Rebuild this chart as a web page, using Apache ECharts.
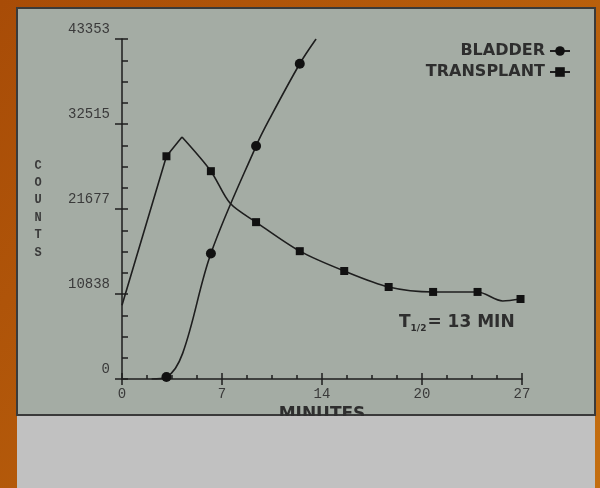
<!DOCTYPE html>
<html>
<head>
<meta charset="utf-8">
<script src="https://cdn.jsdelivr.net/npm/echarts@6/dist/echarts.min.js"></script>
<style>
  html, body { margin: 0; padding: 0; background: #b0560a; }
  #chart { width: 600px; height: 488px; }
</style>
</head>
<body>
<div id="chart"></div>
<script>
// ---- Data ----
// Measured points (drawn with markers)
const bladderMinutes = [3.0, 6.0, 9.05, 12.0];
const bladderCounts = [250, 16000, 29700, 40200];
// Points (no marker)
const bladderTraceMinutes = [2.0, 4.1, 10.0, 13.1];
const bladderTraceCounts = [0, 3300, 33300, 43353];

const transplantMinutes = [3.0, 6.0, 9.05, 12.0, 15.0, 18.0, 21.0, 24.0, 26.9];
const transplantCounts = [28400, 26500, 20000, 16300, 13770, 11730, 11100, 11100, 10200];
const transplantTraceMinutes = [0, 4.05, 7.3, 25.7];
const transplantTraceCounts = [9400, 30850, 22400, 9950];

// Axis tick labels
const xTickLabels = ['0', '7', '14', '20', '27'];
const yTickLabels = ['0', '10838', '21677', '32515', '43353'];
const seriesNames = ['BLADDER', 'TRANSPLANT'];
const axisXName = 'MINUTES';
const axisYName = 'COUNTS';
const halfLifeNote = { pre: 'T', sub: '1/2', post: '= 13 MIN' };

// ---- Build series data ----
function merge(mx, my, tx, ty, sym) {
  const pts = [];
  mx.forEach((x, i) => pts.push({ value: [x, my[i]], symbol: sym }));
  tx.forEach((x, i) => pts.push({ value: [x, ty[i]], symbol: 'none' }));
  pts.sort((a, b) => a.value[0] - b.value[0]);
  return pts;
}
const bladderData = merge(bladderMinutes, bladderCounts, bladderTraceMinutes, bladderTraceCounts, 'circle');
const transplantAll = merge(transplantMinutes, transplantCounts, transplantTraceMinutes, transplantTraceCounts, 'rect');
// split at the peak: straight rise, then smooth decay
let peakIdx = 0;
transplantAll.forEach((p, i) => { if (p.value[1] > transplantAll[peakIdx].value[1]) peakIdx = i; });
const transplantRise = transplantAll.slice(0, peakIdx + 1);
const transplantDecay = transplantAll.slice(peakIdx);

const xMax = 27, yMax = 43353;
const ink = '#1e1e1e';
const mono = '"Liberation Mono", "DejaVu Sans Mono", monospace';
const sans = '"DejaVu Sans", sans-serif';

const chart = echarts.init(document.getElementById('chart'), null, { renderer: 'canvas' });

const baseX = { type: 'value', min: 0, max: xMax, interval: xMax / 4 };
const baseY = { type: 'value', min: 0, max: yMax, interval: yMax / 4 };

chart.setOption({
  animation: false,
  backgroundColor: 'transparent',
  grid: { left: 122, right: 78, top: 39, bottom: 109 },
  legend: {
    data: seriesNames,
    orient: 'vertical',
    right: 24,
    top: 38,
    align: 'right',
    itemWidth: 20,
    itemHeight: 12,
    itemGap: 5,
    selectedMode: false,
    textStyle: { fontFamily: sans, fontWeight: 'bold', fontSize: 16, color: '#2e2e2e', lineHeight: 14 }
  },
  xAxis: [
    Object.assign({}, baseX, {
      position: 'bottom',
      name: axisXName,
      nameLocation: 'middle',
      nameGap: 25,
      nameTextStyle: { fontFamily: sans, fontWeight: 'bold', fontSize: 17, color: '#2e2e2e', verticalAlign: 'middle' },
      axisLine: { show: true, lineStyle: { color: ink, width: 1.5 } },
      axisTick: { show: true, inside: true, length: 6, lineStyle: { color: ink, width: 1.5 } },
      minorTick: { show: true, splitNumber: 4, length: 4, lineStyle: { color: ink, width: 1.5 } },
      splitLine: { show: false },
      axisLabel: {
        margin: 8, fontFamily: mono, fontSize: 14, color: '#3a3a3a',
        formatter: (v) => xTickLabels[Math.round(v / (xMax / 4))]
      }
    }),
    Object.assign({}, baseX, {
      position: 'bottom',
      axisLine: { show: false },
      axisTick: { show: true, inside: false, length: 6, lineStyle: { color: ink, width: 1.5 } },
      axisLabel: { show: false },
      splitLine: { show: false }
    })
  ],
  yAxis: [
    Object.assign({}, baseY, {
      position: 'left',
      name: axisYName.split('').join('\n'),
      nameLocation: 'middle',
      nameRotate: 0,
      nameGap: 84,
      nameTextStyle: { fontFamily: mono, fontSize: 12, fontWeight: 'bold', color: '#3a3a3a', align: 'center', verticalAlign: 'middle', lineHeight: 17.4, padding: [0, 0, 10, 0] },
      axisLine: { show: true, lineStyle: { color: ink, width: 1.5 } },
      axisTick: { show: true, inside: true, length: 6, lineStyle: { color: ink, width: 1.5 } },
      minorTick: { show: true, splitNumber: 4, length: 6, lineStyle: { color: ink, width: 1.5 } },
      splitLine: { show: false },
      axisLabel: {
        margin: 12, fontFamily: mono, fontSize: 14, color: '#3a3a3a',
        verticalAlign: 'bottom', padding: [0, 0, 3, 0],
        formatter: (v) => yTickLabels[Math.round(v / (yMax / 4))]
      }
    }),
    Object.assign({}, baseY, {
      position: 'left',
      axisLine: { show: false },
      axisTick: { show: true, inside: false, length: 7, lineStyle: { color: ink, width: 1.5 } },
      axisLabel: { show: false },
      splitLine: { show: false }
    })
  ],
  graphic: [
    {
      type: 'rect', z: -30, silent: true,
      shape: { x: 0, y: 0, width: 600, height: 488 },
      style: { fill: new echarts.graphic.LinearGradient(0, 0, 1, 1, [
        { offset: 0, color: '#a84c07' }, { offset: 0.5, color: '#b65c0b' }, { offset: 1, color: '#c46e10' }
      ]) }
    },
    {
      type: 'rect', z: -20, silent: true,
      shape: { x: 17, y: 8, width: 578, height: 407 },
      style: { fill: '#a4aca4', stroke: '#3a3a3a', lineWidth: 2 }
    },
    {
      type: 'rect', z: 50, silent: true,
      shape: { x: 17, y: 416, width: 578, height: 72 },
      style: { fill: '#c1c1c1' }
    },
    {
      type: 'text', z: 10, silent: true,
      x: 399, y: 323,
      style: {
        text: '{t|' + halfLifeNote.pre + '}{s|' + halfLifeNote.sub + '}{t|' + halfLifeNote.post + '}',
        verticalAlign: 'middle',
        rich: {
          t: { fontFamily: sans, fontWeight: 'bold', fontSize: 17, fill: '#2e2e2e', lineHeight: 20, verticalAlign: 'middle' },
          s: { fontFamily: sans, fontWeight: 'bold', fontSize: 9, fill: '#2e2e2e', lineHeight: 20, verticalAlign: 'bottom', padding: [8, 1, 0, 0] }
        }
      }
    }
  ],
  series: [
    {
      name: seriesNames[0], type: 'line', xAxisIndex: 0, yAxisIndex: 0,
      data: bladderData, smooth: 0.35,
      symbol: 'circle', symbolSize: 10, showSymbol: true,
      lineStyle: { color: ink, width: 1.6 },
      itemStyle: { color: '#111' },
      z: 3
    },
    {
      name: seriesNames[1], type: 'line', xAxisIndex: 0, yAxisIndex: 0,
      data: transplantRise, smooth: false,
      symbol: 'rect', symbolSize: 8,
      lineStyle: { color: ink, width: 1.6 },
      itemStyle: { color: '#111' },
      z: 3
    },
    {
      name: seriesNames[1], type: 'line', xAxisIndex: 0, yAxisIndex: 0,
      data: transplantDecay, smooth: 0.3,
      symbol: 'rect', symbolSize: 8,
      lineStyle: { color: ink, width: 1.6 },
      itemStyle: { color: '#111' },
      z: 3
    }
  ]
});
</script>
</body>
</html>
